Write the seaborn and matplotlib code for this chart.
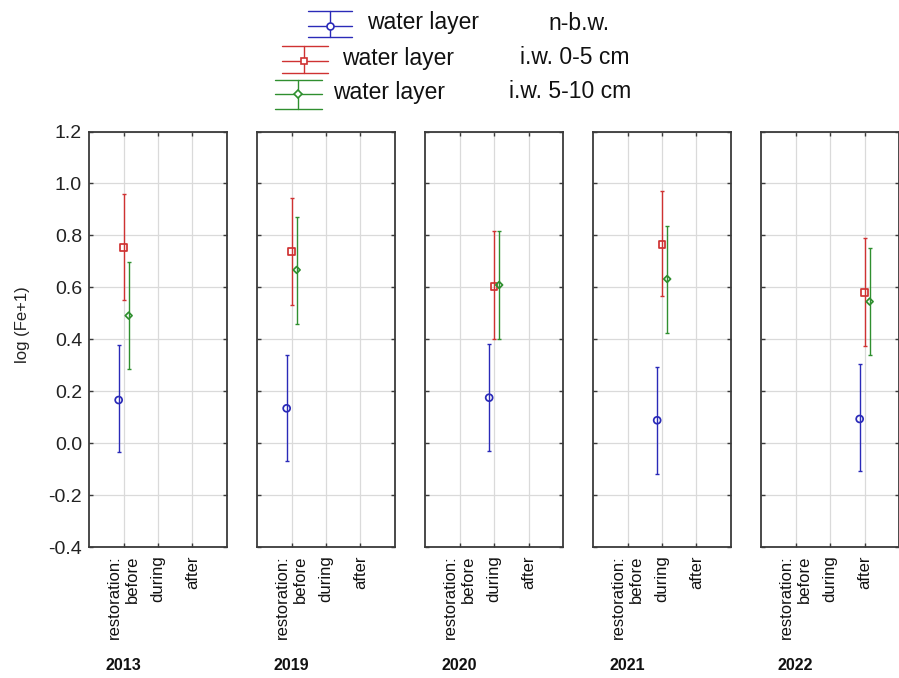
import numpy as np
import pandas as pd
import matplotlib
matplotlib.use("Agg")
import matplotlib.pyplot as plt
import seaborn as sns
from matplotlib.lines import Line2D
from matplotlib.transforms import Affine2D, blended_transform_factory

# ---------------- data ----------------
years = ["2013", "2019", "2020", "2021", "2022"]
stage = ["before", "before", "during", "during", "after"]
stage_labels = ["restoration:\nbefore", "during", "after"]
layers = ["n-b.w.", "i.w. 0-5 cm", "i.w. 5-10 cm"]

nbw_mean = [0.166, 0.134, 0.175, 0.088, 0.093]
nbw_low = [-0.036, -0.068, -0.031, -0.118, -0.107]
nbw_high = [0.377, 0.338, 0.382, 0.294, 0.303]

iw05_mean = [0.752, 0.737, 0.602, 0.765, 0.579]
iw05_low = [0.551, 0.530, 0.402, 0.565, 0.373]
iw05_high = [0.960, 0.942, 0.815, 0.971, 0.788]

iw510_mean = [0.491, 0.667, 0.609, 0.632, 0.545]
iw510_low = [0.286, 0.459, 0.402, 0.425, 0.340]
iw510_high = [0.696, 0.869, 0.815, 0.835, 0.751]

y_ticks = [-0.4, -0.2, 0.0, 0.2, 0.4, 0.6, 0.8, 1.0, 1.2]

rows = []
for lay, m, lo, hi in [(layers[0], nbw_mean, nbw_low, nbw_high),
                       (layers[1], iw05_mean, iw05_low, iw05_high),
                       (layers[2], iw510_mean, iw510_low, iw510_high)]:
    for yr, st, a, b, c in zip(years, stage, m, lo, hi):
        rows.append(dict(year=yr, stage=st, layer=lay, mean=a, low=b, high=c))
df = pd.DataFrame(rows)

# ---------------- style ----------------
sns.set_style("white")
plt.rcParams["font.family"] = ["Liberation Sans", "DejaVu Sans"]
plt.rcParams["axes.unicode_minus"] = False

colors = {"n-b.w.": "#2a2ab8", "i.w. 0-5 cm": "#cf3232", "i.w. 5-10 cm": "#2f8f2f"}
markers = {"n-b.w.": "o", "i.w. 0-5 cm": "s", "i.w. 5-10 cm": "D"}
msizes = {"n-b.w.": 25, "i.w. 0-5 cm": 25, "i.w. 5-10 cm": 12}
offsets = {"n-b.w.": -0.14, "i.w. 0-5 cm": 0.0, "i.w. 5-10 cm": 0.15}
stage_pos = {"before": 1, "during": 2, "after": 3}
spine_c = "#3a3a3a"

W, H = 899, 678
fig = plt.figure(figsize=(W / 100, H / 100), dpi=100)
px = Affine2D().scale(1 / W, -1 / H).translate(0, 1) + fig.transFigure

ax_top, ax_bot = 131.5, 547.0
for i, yr in enumerate(years):
    left = 89 + 168 * i
    ax = fig.add_axes([left / W, 1 - ax_bot / H, 138 / W, (ax_bot - ax_top) / H])
    sub = df[df["year"] == yr].copy()
    sub["x"] = sub["stage"].map(stage_pos) + sub["layer"].map(offsets)
    for lay in layers:
        g = sub[sub["layer"] == lay]
        ax.errorbar(g["x"], g["mean"],
                    yerr=[g["mean"] - g["low"], g["high"] - g["mean"]],
                    fmt="none", ecolor=colors[lay], elinewidth=1.0,
                    capsize=1.6, capthick=1.0, zorder=2)
        sns.scatterplot(data=g, x="x", y="mean", color=colors[lay],
                        marker=markers[lay], s=msizes[lay], ax=ax,
                        legend=False, zorder=3)
        coll = ax.collections[-1]
        coll.set_facecolor("none")
        coll.set_edgecolor(colors[lay])
        coll.set_linewidth(1.25)

    ax.set_xlim(0, 4)
    ax.set_ylim(-0.4, 1.2)
    ax.set_xticks([1, 2, 3])
    ax.set_xticklabels(stage_labels, rotation=90, fontsize=12,
                       multialignment="right", color="#111111")
    ax.set_yticks(y_ticks)
    ax.set_yticklabels([f"{v:.1f}" for v in y_ticks], fontsize=14, color="#222222")
    ax.set_xlabel("")
    ax.set_ylabel("")
    ax.grid(True, color="#dadada", linewidth=0.9)
    ax.set_axisbelow(True)
    for s in ax.spines.values():
        s.set_color(spine_c)
        s.set_linewidth(1.3)
        s.set_visible(True)
    ax.tick_params(direction="in", length=3, width=1, colors=spine_c,
                   top=True, right=True, bottom=True, left=True)
    ax.tick_params(axis="x", pad=6, labelcolor="#111111")
    ax.tick_params(axis="y", pad=5, labelcolor="#222222", labelleft=(i == 0))
    tr = blended_transform_factory(ax.transData, ax.transAxes)
    ax.text(1, (ax_bot - 666) / (ax_bot - ax_top), yr, transform=tr,
            ha="center", va="center", fontsize=11.5, fontweight="bold",
            color="#111111")

fig.text(23 / W, 1 - 325 / H, "log (Fe+1)", rotation=90, ha="center",
         va="center", fontsize=12, color="#222222")

# ---------------- legend (drawn by hand, staggered rows) ----------------
leg_rows = [
    # (layer, cap_x0, cap_x1, vx, cy, cap_top, cap_bot, text1_x, text2_x, text_y)
    ("n-b.w.", 307.7, 351.7, 330, 26, 11, 37.3, 367, 548, 23),
    ("i.w. 0-5 cm", 281.7, 328, 304, 61, 46, 72.7, 341.7, 520, 58),
    ("i.w. 5-10 cm", 275, 321.7, 298, 94.3, 80, 109, 333, 509, 92),
]
for lay, x0, x1, vx, cy, ct, cb, t1, t2, ty in leg_rows:
    c = colors[lay]
    for yy in (ct, cy, cb):
        fig.add_artist(Line2D([x0, x1], [yy, yy], transform=px, color=c, lw=1.0))
    fig.add_artist(Line2D([vx, vx], [ct, cb], transform=px, color=c, lw=1.0))
    ms = {"o": 5.0, "s": 5.0, "D": 3.6}[markers[lay]]
    fig.add_artist(Line2D([vx], [cy], transform=px, color=c, marker=markers[lay],
                          markersize=ms, mfc="white", mec=c, mew=1.2, lw=0))
    fig.text(t1 / W, 1 - ty / H, "water layer", ha="left", va="center",
             fontsize=16.5, color="#111111")
    fig.text(t2 / W, 1 - ty / H, lay, ha="left", va="center",
             fontsize=16.5, color="#111111")

fig.savefig("out.png", dpi=100)
